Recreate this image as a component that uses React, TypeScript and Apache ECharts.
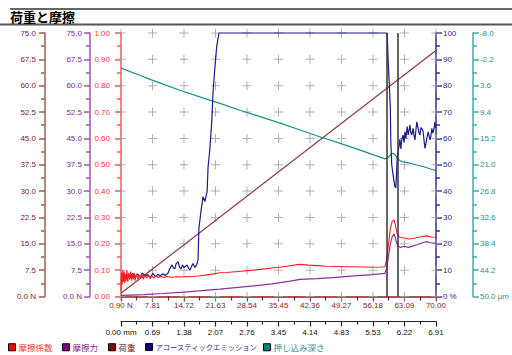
import React, { useEffect, useRef } from 'react';
import * as echarts from 'echarts';

// ---- tick labels ----
const loadTicks = [0.9, 7.81, 14.72, 21.63, 28.54, 35.45, 42.36, 49.27, 56.18, 63.09, 70.0];
const loadTickLabels = ['0.90 N', '7.81', '14.72', '21.63', '28.54', '35.45', '42.36', '49.27', '56.18', '63.09', '70.00'];
const mmTickLabels = ['0.00 mm', '0.69', '1.38', '2.07', '2.76', '3.45', '4.14', '4.83', '5.53', '6.22', '6.91'];
const coefTicks = [0, 0.1, 0.2, 0.3, 0.4, 0.5, 0.6, 0.7, 0.8, 0.9, 1.0];
const coefTickLabels = ['0.00', '0.10', '0.20', '0.30', '0.40', '0.50', '0.60', '0.70', '0.80', '0.90', '1.00'];
const forceTickLabels = ['0.0 N', '7.5', '15.0', '22.5', '30.0', '37.5', '45.0', '52.5', '60.0', '67.5', '75.0'];
const aeTickLabels = ['0 %', '10', '20', '30', '40', '50', '60', '70', '80', '90', '100'];
const depthTickLabels = ['-8.0', '-2.2', '3.6', '9.4', '15.2', '21.0', '26.8', '32.6', '38.4', '44.2', '50.0 μm'];

// ---- series names ----
const seriesNames = ['摩擦係数', '摩擦力', '荷重', 'アコースティックエミッション', '押し込み深さ'];

// ---- data: [load N, value] ----
const loadData = [[0.9, 0.9], [70, 70]];

const frictionCoef = [
  [0.9, 0.02], [1.0, 0.09], [1.15, 0.045], [1.3, 0.1], [1.45, 0.055], [1.6, 0.095], [1.75, 0.05], [1.9, 0.085],
  [2.05, 0.06], [2.2, 0.1], [2.4, 0.055], [2.6, 0.09], [2.8, 0.065], [3.0, 0.095], [3.2, 0.06], [3.4, 0.085],
  [3.6, 0.065], [3.8, 0.09], [4.0, 0.06], [4.3, 0.085], [4.6, 0.065], [4.9, 0.08], [5.2, 0.07], [5.5, 0.085],
  [5.8, 0.065], [6.1, 0.08], [6.5, 0.07], [6.9, 0.082], [7.3, 0.068], [7.7, 0.078], [8.1, 0.07], [8.6, 0.078],
  [9.1, 0.072], [9.6, 0.077], [10.2, 0.072], [11, 0.076], [12, 0.073], [13, 0.075], [14, 0.074], [15, 0.076],
  [16, 0.075], [17, 0.077], [18, 0.078], [19, 0.08], [20, 0.083], [21, 0.085], [22.6, 0.09], [24, 0.091],
  [26, 0.094], [28, 0.097], [30, 0.1], [32, 0.104], [34, 0.108], [36, 0.112], [38, 0.117], [40, 0.122],
  [42, 0.119], [44, 0.117], [46, 0.115], [48, 0.114], [50, 0.113], [52, 0.113], [54, 0.112], [56, 0.111],
  [58, 0.112], [58.8, 0.113], [59.2, 0.14], [59.6, 0.2], [60.0, 0.26], [60.4, 0.285], [60.85, 0.29], [61.1, 0.27],
  [61.4, 0.245], [61.7, 0.228], [62.2, 0.225], [63, 0.222], [64, 0.218], [65, 0.22], [66, 0.224], [67, 0.228],
  [68, 0.23], [69, 0.226], [70, 0.225],
];

const frictionForce = [
  [0.9, 0.3], [3, 0.4], [6, 0.55], [10, 0.85], [14, 1.2], [18, 1.6], [22.6, 2.1], [26, 2.5], [30, 3.0],
  [34, 3.6], [38, 4.4], [40.2, 4.9], [44, 5.1], [48, 5.45], [52, 5.85], [56, 6.2], [58.8, 6.6], [59.2, 8.0],
  [59.6, 11.5], [60.0, 15.0], [60.4, 17.0], [60.85, 17.8], [61.1, 16.6], [61.4, 15.2], [61.7, 14.3], [62.2, 14.0],
  [63, 14.3], [64, 14.0], [65, 14.4], [66, 14.8], [67, 15.3], [68, 15.6], [69, 15.3], [70, 15.2],
];

const acousticEmission = [
  [1.8, 7], [2.3, 8.5], [2.9, 7.2], [3.4, 8.8], [4.0, 7.5], [4.5, 8.6], [5.1, 7.4], [5.6, 8.9], [6.2, 7.8],
  [6.8, 8.3], [7.3, 7.2], [7.9, 8.8], [8.4, 7.6], [9.0, 8.4], [9.5, 7.8], [10.1, 8.6], [10.6, 8.0], [11.2, 8.8],
  [11.6, 10.5], [12.1, 12.0], [12.4, 10.8], [12.7, 10.5], [13.0, 12.5], [13.4, 13.2], [13.8, 11.0], [14.1, 10.5],
  [14.4, 12.0], [14.7, 11.0], [15.1, 11.5], [15.4, 12.0], [15.7, 10.8], [16.0, 10.0], [16.4, 11.5], [16.7, 12.5],
  [17.1, 11.0], [17.5, 12.0], [17.8, 13.9], [18.0, 26], [18.5, 33], [18.9, 37.9], [19.3, 36], [19.8, 40],
  [20.0, 49], [20.4, 56], [20.8, 66], [21.1, 77.7], [21.5, 86.7], [21.9, 95], [22.4, 100], [59.3, 100],
  [59.5, 90.5], [60.0, 71.5], [60.1, 58.7], [60.3, 50], [60.7, 44.9], [61.0, 41.7], [61.2, 41.3], [61.3, 45],
  [61.5, 52.6], [61.7, 55], [61.95, 57.5], [62.1, 59.7], [62.3, 56], [62.5, 59.4], [62.8, 61.3], [63.0, 58.5],
  [63.2, 62.5], [63.4, 60.0], [63.7, 64.5], [63.9, 61.3], [64.1, 63], [64.3, 65.1], [64.5, 62], [64.7, 61.3],
  [65.0, 63.8], [65.2, 61], [65.4, 59.4], [65.6, 63], [65.8, 66.3], [66.1, 63.8], [66.3, 62], [66.5, 61.3],
  [66.7, 64], [66.9, 63.8], [67.2, 62.5], [67.4, 59], [67.6, 56.2], [67.8, 58], [68.0, 60.0], [68.3, 62.5],
  [68.5, 61], [68.7, 59.4], [68.9, 61], [69.1, 63.8], [69.3, 62], [69.4, 62.5], [69.6, 64], [69.8, 66.3], [70, 64],
];

const penetrationDepth = [
  [0.9, -0.3], [2.9, 0.5], [5, 1.3], [7.3, 2.2], [10, 3.2], [13.8, 4.6], [18, 6.0], [22.6, 7.5], [27, 9.0],
  [31.4, 10.4], [36, 11.9], [40.2, 13.35], [45, 15.0], [49, 16.3], [54, 18.0], [58.8, 19.7], [59.5, 19.4],
  [60.0, 18.9], [60.3, 18.6], [60.7, 18.5], [61.0, 18.8], [61.4, 19.4], [61.7, 19.8], [62.5, 20.3], [64, 20.6],
  [65.8, 21.05], [67.5, 21.5], [69, 22.0], [70, 22.3],
];

const markerLoads = [59.2, 61.7];

const FONT = 'Liberation Sans, Arial, sans-serif';
const JP = 'Noto Sans CJK JP, sans-serif';

const C = {
  coef: '#ff1f1f', coefAxis: '#ff5a5a', coefLabel: '#ff3535',
  force: '#8e2ea0', forceAxis: '#a552b5', forceLabel: '#7f2a92',
  load: '#8b3a3a', loadAxis: '#a05a5a', loadLabel: '#7b2030',
  ae: '#1c1c86', aeAxis: '#2f2f90', aeLabel: '#2a2a8a',
  depth: '#1a9088', depthAxis: '#45aaa3', depthLabel: '#2e8f95',
  xLoad: '#8b1c24',
};

function yAxisCfg(opts: any) {
  const { min, max, interval, labels, color, labelColor, position, offset, inverse, margin } = opts;
  return {
    type: 'value', min, max, interval, position, offset, inverse: !!inverse,
    splitLine: { show: false },
    axisLine: { show: true, onZero: false, lineStyle: { color, width: 1.5 } },
    axisTick: { show: true, inside: false, length: 6, lineStyle: { color, width: 1.5 } },
    minorTick: { show: true, splitNumber: 2, length: 4, lineStyle: { color, width: 1.5 } },
    axisLabel: {
      show: true, margin, color: labelColor, fontSize: 8, fontFamily: FONT,
      formatter: (v: number) => labels[Math.round((v - min) / interval)] ?? '',
    },
  };
}

export default function App() {
  const ref = useRef<HTMLDivElement>(null);
  useEffect(() => {
    if (!ref.current) return;
    const chart = echarts.init(ref.current, null, { renderer: 'svg' });

    const crosses: number[][] = [];
    loadTicks.forEach((x) => coefTicks.forEach((y) => crosses.push([x, y])));

    const legends = seriesNames.map((name, i) => {
      const lefts = [8, 62, 108, 145, 263];
      const colors = [C.coefLabel, C.forceLabel, C.loadLabel, C.aeLabel, C.depthLabel];
      return {
        show: true, left: lefts[i], top: 343, padding: 0, icon: 'rect', itemWidth: 7, itemHeight: 7,
        itemStyle: { borderColor: '#000', borderWidth: 1 },
        data: [name],
        textStyle: { color: colors[i], fontSize: i === 3 ? 7.3 : 8.5, fontFamily: JP, padding: [0, 0, 0, -2] },
        selectedMode: false,
      };
    });

    const option: any = {
      animation: false,
      backgroundColor: '#fff',
      title: {
        text: '荷重と摩擦', left: 10, top: 10, padding: 0,
        textStyle: { fontSize: 13, fontWeight: 'bold', color: '#000', fontFamily: JP },
      },
      graphic: [
        { type: 'line', shape: { x1: 10, y1: 9, x2: 512, y2: 9 }, style: { stroke: '#333', lineWidth: 1.5 } },
        { type: 'line', shape: { x1: 0, y1: 24.5, x2: 512, y2: 24.5 }, style: { stroke: '#555', lineWidth: 2 } },
      ],
      legend: legends,
      grid: { left: 121, right: 76, top: 33, bottom: 58.5, containLabel: false },
      xAxis: [
        {
          type: 'value', min: 0.9, max: 70, interval: 6.91, position: 'bottom',
          splitLine: { show: false },
          axisLine: { show: true, onZero: false, lineStyle: { color: C.xLoad, width: 1.5 } },
          axisTick: { show: true, length: 5, lineStyle: { color: C.xLoad, width: 1.2 } },
          minorTick: { show: true, splitNumber: 2, length: 4, lineStyle: { color: C.xLoad, width: 1.2 } },
          axisLabel: {
            margin: 5, color: C.xLoad, fontSize: 8, fontFamily: FONT, showMinLabel: true, showMaxLabel: true,
            formatter: (v: number) => loadTickLabels[Math.round((v - 0.9) / 6.91)] ?? '',
          },
        },
        {
          type: 'value', min: 0, max: 6.91, interval: 0.691, position: 'bottom', offset: 25,
          splitLine: { show: false },
          axisLine: { show: true, onZero: false, lineStyle: { color: '#222', width: 1.2 } },
          axisTick: { show: true, length: 5, lineStyle: { color: '#222', width: 1.2 } },
          minorTick: { show: true, splitNumber: 2, length: 3, lineStyle: { color: '#222', width: 1.2 } },
          axisLabel: {
            margin: 7, color: '#111', fontSize: 8, fontFamily: FONT, showMinLabel: true, showMaxLabel: true,
            formatter: (v: number) => mmTickLabels[Math.round(v / 0.691)] ?? '',
          },
        },
      ],
      yAxis: [
        yAxisCfg({ min: 0, max: 1, interval: 0.1, labels: coefTickLabels, color: C.coefAxis, labelColor: C.coefLabel, position: 'left', offset: 0, margin: 11 }),
        yAxisCfg({ min: 0, max: 75, interval: 7.5, labels: forceTickLabels, color: C.forceAxis, labelColor: C.forceLabel, position: 'left', offset: 31, margin: 8 }),
        yAxisCfg({ min: 0, max: 75, interval: 7.5, labels: forceTickLabels, color: C.loadAxis, labelColor: C.loadLabel, position: 'left', offset: 76, margin: 9 }),
        yAxisCfg({ min: 0, max: 100, interval: 10, labels: aeTickLabels, color: C.aeAxis, labelColor: C.aeLabel, position: 'right', offset: 0, margin: 7 }),
        yAxisCfg({ min: -8, max: 50, interval: 5.8, labels: depthTickLabels, color: C.depthAxis, labelColor: C.depthLabel, position: 'right', offset: 37, margin: 7, inverse: true }),
      ],
      series: [
        {
          type: 'scatter', name: 'grid', xAxisIndex: 0, yAxisIndex: 0, data: crosses, silent: true, clip: false, z: 1,
          symbol: 'path://M4,0h1v9h-1z M0,4h9v1h-9z', symbolSize: 9,
          itemStyle: { color: '#9c9c9c' },
        },
        {
          type: 'line', name: seriesNames[2], xAxisIndex: 0, yAxisIndex: 2, data: loadData, showSymbol: false, symbol: 'none',
          lineStyle: { color: C.load, width: 1.2 }, itemStyle: { color: '#8b0000' }, z: 3,
          markLine: {
            silent: true, symbol: 'none', label: { show: false },
            lineStyle: { color: '#333', width: 1.5, type: 'solid' },
            data: markerLoads.map((x) => ({ xAxis: x })),
          },
        },
        {
          type: 'line', name: seriesNames[4], xAxisIndex: 0, yAxisIndex: 4, data: penetrationDepth, showSymbol: false, symbol: 'none',
          lineStyle: { color: C.depth, width: 1.2 }, itemStyle: { color: '#008080' }, z: 3,
        },
        {
          type: 'line', name: seriesNames[3], xAxisIndex: 0, yAxisIndex: 3, data: acousticEmission, showSymbol: false, symbol: 'none',
          lineStyle: { color: C.ae, width: 1.2 }, itemStyle: { color: '#000080' }, z: 3, clip: false,
        },
        {
          type: 'line', name: seriesNames[1], xAxisIndex: 0, yAxisIndex: 1, data: frictionForce, showSymbol: false, symbol: 'none',
          lineStyle: { color: C.force, width: 1.2 }, itemStyle: { color: '#800080' }, z: 4,
        },
        {
          type: 'line', name: seriesNames[0], xAxisIndex: 0, yAxisIndex: 0, data: frictionCoef, showSymbol: false, symbol: 'none',
          lineStyle: { color: C.coef, width: 1.1 }, itemStyle: { color: '#ff0000' }, z: 4,
        },
      ],
    };
    chart.setOption(option);
    return () => chart.dispose();
  }, []);

  return <div ref={ref} style={{ position: 'fixed', left: 0, top: 0, width: 512, height: 355 }} />;
}
